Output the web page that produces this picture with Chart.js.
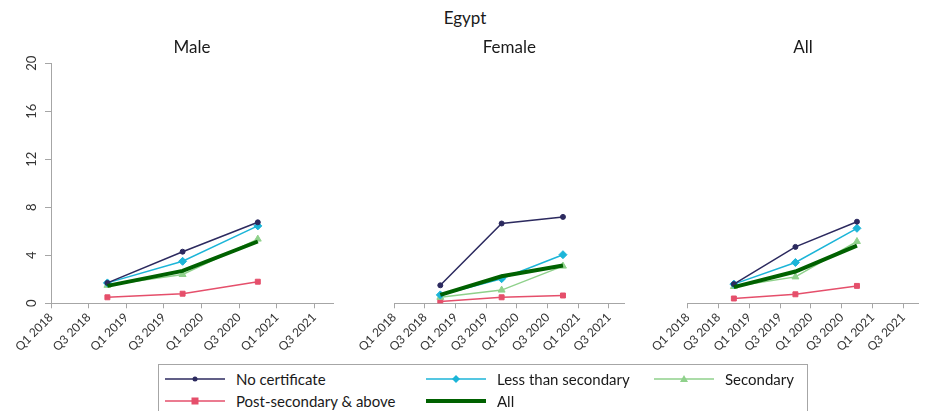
<!DOCTYPE html>
<html>
<head>
<meta charset="utf-8">
<script src="https://cdn.jsdelivr.net/npm/chart.js@4.4.0/dist/chart.umd.min.js"></script>
<style>
  body { margin:0; width:925px; height:411px; overflow:hidden; background:#fff; position:relative; font-family:Lato, 'Open Sans', sans-serif; }
  #title { position:absolute; left:0; top:7px; width:930px; text-align:center; font-size:17px; color:#1a1a1a; }
  .panel { position:absolute; top:0; }
  #legend { position:absolute; left:158px; top:364px; width:650px; height:60px; border:1px solid #a6a6a6; box-sizing:border-box; }
  .item { position:absolute; height:20px; display:flex; align-items:center; font-size:15px; color:#1a1a1a; white-space:nowrap; }
  .item svg { margin-right:11px; }
</style>
</head>
<body>
<div id="title">Egypt</div>
<canvas id="male" class="panel" width="346" height="360" style="left:0px"></canvas>
<canvas id="female" class="panel" width="337" height="360" style="left:300px"></canvas>
<canvas id="all" class="panel" width="340" height="360" style="left:594px"></canvas>
<div id="legend"></div>

<script>
// Trimestres do eixo x (rótulo só nos Q1 e Q3)
var quarters = ['Q1 2018','Q2 2018','Q3 2018','Q4 2018','Q1 2019','Q2 2019','Q3 2019','Q4 2019',
                'Q1 2020','Q2 2020','Q3 2020','Q4 2020','Q1 2021','Q2 2021','Q3 2021','Q4 2021']
var pointQuarters = ['Q4 2018','Q4 2019','Q4 2020']
var yTicks = [0, 4, 8, 12, 16, 20]

var seriesNames = ['No certificate','Less than secondary','Secondary','Post-secondary & above','All']

// Valores por painel, na ordem de seriesNames
var maleNoCert = [1.7, 4.3, 6.75]
var maleLessSec = [1.7, 3.5, 6.45]
var maleSecondary = [1.5, 2.4, 5.35]
var malePostSec = [0.5, 0.8, 1.8]
var maleAll = [1.45, 2.7, 5.15]

var femaleNoCert = [1.5, 6.65, 7.2]
var femaleLessSec = [0.7, 2.05, 4.05]
var femaleSecondary = [0.5, 1.1, 3.1]
var femalePostSec = [0.15, 0.5, 0.65]
var femaleAll = [0.7, 2.25, 3.15]

var allNoCert = [1.6, 4.7, 6.8]
var allLessSec = [1.6, 3.4, 6.25]
var allSecondary = [1.4, 2.2, 5.15]
var allPostSec = [0.4, 0.75, 1.45]
var allAll = [1.35, 2.65, 4.8]

var styles = [
    { color: '#2c2a5f', width: 1.5, point: 'circle', radius: 2.5 },
    { color: '#1cb5d8', width: 1.5, point: 'rectRot', radius: 4 },
    { color: '#8fd18b', width: 1.5, point: 'triangle', radius: 4 },
    { color: '#e54f6b', width: 1.5, point: 'rect', radius: 3.5 },
    { color: '#006100', width: 4, point: false, radius: 0 }
]

var axisColor = '#a6a6a6'
var textColor = '#333333'
var fontFamily = "Lato, 'Open Sans', sans-serif"

function buildDatasets(values){
    return values.map((vals, i) => ({
        label: seriesNames[i],
        data: pointQuarters.map((q, j) => ({ x: q, y: vals[j] })),
        borderColor: styles[i].color,
        backgroundColor: styles[i].color,
        borderWidth: styles[i].width,
        pointStyle: styles[i].point,
        pointRadius: styles[i].radius,
        pointBorderWidth: 1,
        tension: 0,
        order: i === 4 ? 0 : 1
    }))
}

function makePanel(id, title, values, showY, padLeft, padRight){
    var ctx = document.getElementById(id).getContext('2d')
    return new Chart(ctx, {
        type: 'line',
        data: { labels: quarters, datasets: buildDatasets(values) },
        options: {
            responsive: false,
            animation: false,
            devicePixelRatio: 1,
            layout: { padding: { left: padLeft, right: padRight, top: 0, bottom: 0 } },
            plugins: {
                legend: { display: false },
                tooltip: { enabled: false },
                title: {
                    display: true,
                    text: title,
                    fullSize: false,
                    color: '#1a1a1a',
                    font: { family: fontFamily, size: 17, weight: 'normal' },
                    padding: { top: 37.8, bottom: 5.1 }
                }
            },
            scales: {
                x: {
                    type: 'category',
                    offset: false,
                    grid: { drawOnChartArea: false, color: axisColor, tickLength: 5 },
                    border: { color: axisColor },
                    ticks: {
                        autoSkip: false,
                        minRotation: 45,
                        maxRotation: 45,
                        padding: 2,
                        color: textColor,
                        font: { family: fontFamily, size: 12 },
                        callback: function(v, i){ return i % 2 === 0 ? this.getLabelForValue(v) : null }
                    },
                    afterFit: function(scale){ scale.height = 56.7 }
                },
                y: {
                    display: showY,
                    min: 0,
                    max: 20,
                    afterBuildTicks: function(scale){ scale.ticks = yTicks.map(v => ({ value: v })) },
                    grid: { drawOnChartArea: false, color: axisColor, tickLength: 6 },
                    border: { color: axisColor },
                    ticks: {
                        minRotation: 90,
                        maxRotation: 90,
                        crossAlign: 'center',
                        padding: 6,
                        color: textColor,
                        font: { family: fontFamily, size: 13 }
                    },
                    afterFit: function(scale){ scale.width = 51 }
                }
            }
        }
    })
}

makePanel('male', 'Male', [maleNoCert, maleLessSec, maleSecondary, malePostSec, maleAll], true, 0, 13)
makePanel('female', 'Female', [femaleNoCert, femaleLessSec, femaleSecondary, femalePostSec, femaleAll], false, 43.3, 12.7)
makePanel('all', 'All', [allNoCert, allLessSec, allSecondary, allPostSec, allAll], false, 42.7, 15.5)

// Legenda em HTML: linha + marcador de cada série
function markerSvg(s){
    var m = ''
    var w = 60, cx = 30, cy = 10
    if (s.point === 'circle') m = '<circle cx="'+cx+'" cy="'+cy+'" r="'+s.radius+'" fill="'+s.color+'"/>'
    if (s.point === 'rectRot') m = '<polygon points="'+cx+','+(cy-4)+' '+(cx+4)+','+cy+' '+cx+','+(cy+4)+' '+(cx-4)+','+cy+'" fill="'+s.color+'"/>'
    if (s.point === 'triangle') m = '<polygon points="'+cx+','+(cy-4)+' '+(cx+4)+','+(cy+3)+' '+(cx-4)+','+(cy+3)+'" fill="'+s.color+'"/>'
    if (s.point === 'rect') m = '<rect x="'+(cx-3.5)+'" y="'+(cy-3.5)+'" width="7" height="7" fill="'+s.color+'"/>'
    return '<svg width="'+w+'" height="20"><line x1="0" y1="10" x2="'+w+'" y2="10" stroke="'+s.color+'" stroke-width="'+s.width+'"/>'+m+'</svg>'
}

var legendPos = [[6, 4], [267, 4], [495, 4], [6, 26], [267, 26]]
var legend = document.getElementById('legend')
seriesNames.forEach((name, i) => {
    var div = document.createElement('div')
    div.className = 'item'
    div.style.left = legendPos[i][0] + 'px'
    div.style.top = legendPos[i][1] + 'px'
    div.innerHTML = markerSvg(styles[i]) + '<span>' + name + '</span>'
    legend.appendChild(div)
})
</script>
</body>
</html>
